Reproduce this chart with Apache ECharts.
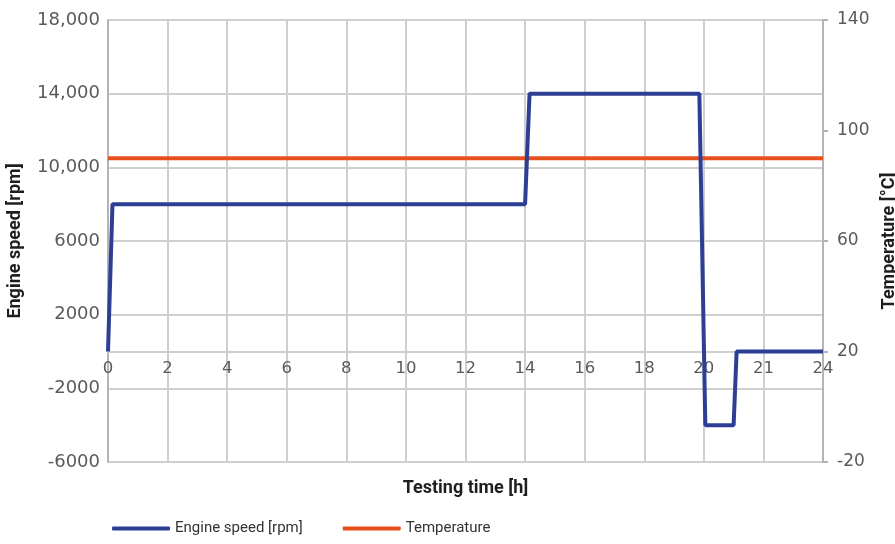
<!DOCTYPE html>
<html>
<head>
<meta charset="utf-8">
<script src="https://cdn.jsdelivr.net/npm/echarts@6/dist/echarts.min.js"></script>
<style>
  html, body { margin: 0; padding: 0; background: #fff; }
  #chart { width: 895px; height: 544px; }
</style>
</head>
<body>
<div id="chart"></div>
<script>
// engine speed profile, time [h] / speed [rpm]
const speedTime = [0, 0.15, 14, 14.15, 19.85, 20.05, 21, 21.1, 24]
const speedRpm = [0, 8000, 8000, 14000, 14000, -4000, -4000, 0, 0]
// temperature, time [h] / [°C]
const tempTime = [0, 24]
const tempC = [90, 90]
// tick labels as printed
const timeLabels = ['0', '2', '4', '6', '8', '10', '12', '14', '16', '18', '20', '21', '24']
const speedTicks = [-6000, -2000, 2000, 6000, 10000, 14000, 18000]
const speedLabels = ['-6000', '-2000', '2000', '6000', '10,000', '14,000', '18,000']
const tempTicks = [-20, 20, 60, 100, 140]

const BLUE = '#2c3f95'
const ORANGE = '#e5501d'
const GRID = '#cfcfcf'
const AXIS = '#b4b4b4'
const labelFont = '"DejaVu Sans", sans-serif'
const titleFont = 'Roboto, sans-serif'

const W = 895, H = 544
const gridPos = { left: 108, right: 72, top: 20, bottom: 82 }
const speedMin = -6000, speedMax = 18000
// time axis sits on the 0 rpm line, like the printed chart
const plotH = H - gridPos.top - gridPos.bottom
const zeroOffset = -plotH * (0 - speedMin) / (speedMax - speedMin)

const chart = echarts.init(document.getElementById('chart'))

const option = {
  animation: false,
  grid: Object.assign({ outerBoundsMode: 'none' }, gridPos),
  legend: {
    left: 107,
    bottom: 3,
    itemWidth: 58,
    itemHeight: 4,
    itemGap: 40,
    icon: 'roundRect',
    textStyle: { fontFamily: titleFont, fontSize: 15, color: '#333' },
    data: ['Engine speed [rpm]', 'Temperature']
  },
  xAxis: {
    type: 'value',
    min: 0,
    max: 24,
    interval: 2,
    offset: zeroOffset,
    name: 'Testing time [h]',
    nameLocation: 'middle',
    nameGap: 128,
    nameTextStyle: { fontFamily: titleFont, fontSize: 18, fontWeight: 'bold', color: '#1e1e1e' },
    axisLine: { show: true, onZero: false, lineStyle: { color: GRID, width: 2 } },
    axisTick: { show: false },
    axisLabel: {
      margin: 9,
      fontFamily: labelFont,
      fontSize: 16.5,
      color: '#5a5a5a',
      formatter: function(v) { return timeLabels[Math.round(v / 2)] }
    },
    splitLine: { show: true, lineStyle: { color: GRID, width: 2 } }
  },
  yAxis: [{
    type: 'value',
    min: speedMin,
    max: speedMax,
    name: 'Engine speed [rpm]',
    nameLocation: 'middle',
    nameRotate: 90,
    nameGap: 84,
    nameTextStyle: { fontFamily: titleFont, fontSize: 18, fontWeight: 'bold', color: '#1e1e1e' },
    axisLine: { show: true, onZero: false, lineStyle: { color: AXIS, width: 2 } },
    axisTick: { show: false, customValues: speedTicks },
    axisLabel: {
      margin: 8,
      customValues: speedTicks,
      fontFamily: labelFont,
      fontSize: 18,
      color: '#5a5a5a',
      formatter: function(v) { return speedLabels[speedTicks.indexOf(v)] }
    },
    splitLine: { show: true, lineStyle: { color: GRID, width: 2 } }
  }, {
    type: 'value',
    min: -20,
    max: 140,
    position: 'right',
    name: 'Temperature [°C]',
    nameLocation: 'middle',
    nameRotate: 90,
    nameGap: 56,
    nameTextStyle: { fontFamily: titleFont, fontSize: 18, fontWeight: 'bold', color: '#1e1e1e' },
    axisLine: { show: true, onZero: false, lineStyle: { color: AXIS, width: 2 } },
    axisTick: { show: true, length: 5, customValues: tempTicks, lineStyle: { color: AXIS, width: 2 } },
    axisLabel: {
      margin: 14,
      customValues: tempTicks,
      fontFamily: labelFont,
      fontSize: 17,
      color: '#5a5a5a'
    },
    splitLine: { show: false }
  }],
  series: [{
    name: 'Engine speed [rpm]',
    type: 'line',
    yAxisIndex: 0,
    showSymbol: false,
    data: speedTime.map((t, i) => [t, speedRpm[i]]),
    lineStyle: { color: BLUE, width: 4 },
    itemStyle: { color: BLUE },
    z: 3
  }, {
    name: 'Temperature',
    type: 'line',
    yAxisIndex: 1,
    showSymbol: false,
    data: tempTime.map((t, i) => [t, tempC[i]]),
    lineStyle: { color: ORANGE, width: 4 },
    itemStyle: { color: ORANGE },
    z: 2
  }]
}

chart.setOption(option)
</script>
</body>
</html>
